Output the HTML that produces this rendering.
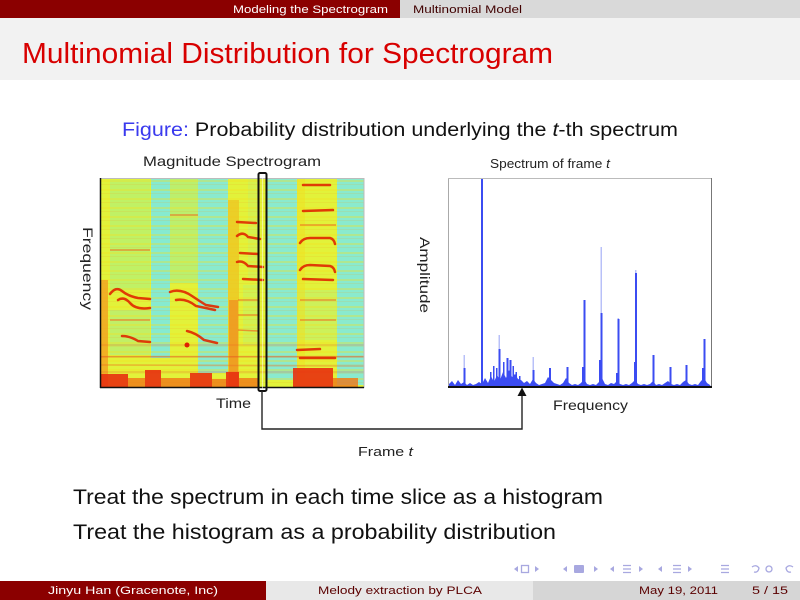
<!DOCTYPE html>
<html><head><meta charset="utf-8"><style>
html,body{margin:0;padding:0;background:#fff;}
svg{display:block;font-family:"Liberation Sans",sans-serif;}
</style></head><body>
<svg width="800" height="600" viewBox="0 0 800 600" xmlns="http://www.w3.org/2000/svg">
<defs>
<clipPath id="spc"><rect x="101" y="178" width="263" height="209"/></clipPath>
<pattern id="stripes" x="0" y="178" width="263" height="9" patternUnits="userSpaceOnUse">
<rect x="0" y="2" width="263" height="2" fill="#f4e020" opacity="0.35"/>
<rect x="0" y="6" width="263" height="1" fill="#f0a020" opacity="0.15"/>
</pattern>
</defs>
<!-- header -->
<rect x="0" y="0" width="400" height="18" fill="#8b0000"/>
<rect x="400" y="0" width="400" height="18" fill="#d9d9d9"/>
<text x="233" y="13" font-size="11" fill="#fff" textLength="155" lengthAdjust="spacingAndGlyphs">Modeling the Spectrogram</text>
<text x="413" y="13" font-size="11" fill="#400000" textLength="109" lengthAdjust="spacingAndGlyphs">Multinomial Model</text>
<!-- title band -->
<rect x="0" y="18" width="800" height="62" fill="#f2f2f2"/>
<text x="22" y="63" font-size="29" fill="#d80000" textLength="531" lengthAdjust="spacingAndGlyphs">Multinomial Distribution for Spectrogram</text>
<!-- caption -->
<text x="122" y="136" font-size="19" fill="#111" textLength="556" lengthAdjust="spacingAndGlyphs"><tspan fill="#3a3aee">Figure:</tspan> Probability distribution underlying the <tspan font-style="italic">t</tspan>-th spectrum</text>
<text x="143" y="166" font-size="14" fill="#222" textLength="178" lengthAdjust="spacingAndGlyphs">Magnitude Spectrogram</text>
<text x="490" y="168" font-size="13" fill="#222" textLength="120" lengthAdjust="spacingAndGlyphs">Spectrum of frame <tspan font-style="italic">t</tspan></text>

<!-- spectrogram -->
<g clip-path="url(#spc)">
<rect x="101" y="178" width="263" height="209" fill="#e2f23a"/>
<rect x="110" y="180" width="40" height="110" fill="#b8f070" opacity="0.8"/>
<rect x="151" y="178" width="19" height="180" fill="#86ead0"/>
<rect x="170" y="178" width="28" height="105" fill="#b4ef78" opacity="0.85"/>
<rect x="198" y="178" width="30" height="195" fill="#8aeace"/>
<rect x="110" y="310" width="40" height="45" fill="#b4ee7a" opacity="0.7"/>
<rect x="243" y="285" width="15" height="60" fill="#c6f060" opacity="0.6"/>
<rect x="267" y="178" width="30" height="202" fill="#8aeace"/>
<rect x="337" y="178" width="27" height="207" fill="#8aeace"/>
<rect x="297" y="290" width="40" height="50" fill="#bff070" opacity="0.6"/>
<rect x="248" y="178" width="10" height="100" fill="#c8f060" opacity="0.5"/>
<rect x="101" y="178" width="263" height="209" fill="url(#stripes)"/>
<rect x="101" y="280" width="7" height="107" fill="#f4a020" opacity="0.8"/>
<rect x="228" y="200" width="11" height="187" fill="#f0c020" opacity="0.7"/>
<rect x="229" y="300" width="9" height="87" fill="#f08020" opacity="0.6"/>
<rect x="297" y="178" width="8" height="200" fill="#f0e020" opacity="0.5"/>
<rect x="101" y="356" width="263" height="1.5" fill="#e86020" opacity="0.6"/>
<g fill="none" stroke="#e02800" stroke-width="2.5" stroke-linecap="round" opacity="0.9">
<path d="M110 294 Q116 286 122 291 T138 298 L150 299"/>
<path d="M118 300 Q124 296 130 303 T150 308"/>
<path d="M170 292 Q180 288 192 296 T206 305 L218 307"/>
<path d="M176 300 Q186 298 196 306 L215 310"/>
<path d="M122 336 Q130 336 138 341 L150 342"/>
<path d="M187 331 Q196 333 204 340 L217 343"/>
<path d="M237 236 Q243 231 248 237 L260 239"/>
<path d="M237 262 Q243 260 248 266 L263 267"/>
<path d="M243 279 L263 280"/>
<path d="M237 222 L256 223"/>
<path d="M240 253 L258 254"/>
<path d="M303 185 L330 185"/>
<path d="M303 211 L333 210"/>
<path d="M300 243 Q303 238 310 238 L330 238 Q334 239 335 244"/>
<path d="M300 270 Q303 265 310 265 L330 266 Q334 267 335 272"/>
<path d="M303 279 L333 280"/>
<path d="M300 358 L335 358"/>
<path d="M297 350 L320 349"/>
</g>
<g fill="none" stroke="#f07020" stroke-width="1.5" opacity="0.7">
<path d="M110 250 L150 250"/><path d="M170 215 L198 215"/><path d="M110 320 L150 320"/>
<path d="M238 300 L258 300"/><path d="M238 315 L258 315"/><path d="M238 330 L258 331"/>
<path d="M300 225 L336 225"/><path d="M300 300 L336 300"/><path d="M300 320 L336 320"/>
<path d="M101 345 L364 345" opacity="0.5"/><path d="M101 365 L364 366" opacity="0.6"/>
<path d="M101 372 L364 372" opacity="0.5"/>
</g>
<circle cx="187" cy="345" r="2.5" fill="#e02000"/>
<g fill="#e83010" opacity="0.9">
<rect x="101" y="374" width="27" height="13"/>
<rect x="145" y="370" width="16" height="17"/>
<rect x="190" y="373" width="22" height="14"/>
<rect x="226" y="372" width="13" height="15"/>
<rect x="293" y="368" width="40" height="19"/>
</g>
<g fill="#f07818" opacity="0.8">
<rect x="128" y="378" width="17" height="9"/>
<rect x="161" y="378" width="29" height="9"/>
<rect x="212" y="379" width="14" height="8"/>
<rect x="333" y="378" width="25" height="9"/>
<rect x="239" y="378" width="20" height="9"/>
</g>
</g>
<rect x="100.5" y="178.5" width="263.5" height="209" fill="none" stroke="#bbb" stroke-width="1"/>
<line x1="100.5" y1="178" x2="100.5" y2="388" stroke="#111" stroke-width="1.5"/>
<line x1="100" y1="387.5" x2="364" y2="387.5" stroke="#111" stroke-width="1.5"/>
<rect x="258.5" y="173" width="8" height="218" rx="1.5" fill="none" stroke="#111" stroke-width="2"/>
<line x1="262.5" y1="175" x2="262.5" y2="389" stroke="#fff" stroke-width="1" opacity="0.5"/>
<path d="M262 391 V429 H522 V393" fill="none" stroke="#222" stroke-width="1.4"/>
<polygon points="517.5,396 522,387.5 526.5,396" fill="#111"/>

<!-- spectrum -->
<rect x="448" y="178" width="264" height="209" fill="#fff"/>
<line x1="448.5" y1="178" x2="448.5" y2="387" stroke="#aaa"/>
<line x1="448" y1="178.5" x2="712" y2="178.5" stroke="#bbb"/>
<line x1="711.5" y1="178" x2="711.5" y2="387" stroke="#777"/>
<g fill="#b8c0f8">
<rect x="463.5" y="355" width="1.5" height="14"/>
<rect x="498.5" y="335" width="1.5" height="15"/>
<rect x="532.5" y="357" width="1.5" height="14"/>
<rect x="600.5" y="247" width="1.5" height="67"/>
<rect x="617.5" y="318" width="1.5" height="4"/>
<rect x="635" y="270" width="1.5" height="5"/>
</g>
<g fill="#3b4cf2">
<rect x="463.5" y="368" width="2" height="19"/>
<rect x="481" y="179" width="2" height="208"/>
<rect x="498.5" y="349" width="2" height="38"/>
<rect x="506.5" y="358" width="2" height="29"/>
<rect x="509.5" y="360" width="2" height="27"/>
<rect x="532.5" y="370" width="2" height="17"/>
<rect x="549" y="368" width="2" height="19"/>
<rect x="566.5" y="367" width="2" height="20"/>
<rect x="583.5" y="300" width="2" height="87"/>
<rect x="600.5" y="313" width="2" height="74"/>
<rect x="617.5" y="319" width="2" height="68"/>
<rect x="635" y="273" width="2" height="114"/>
<rect x="652.5" y="355" width="2" height="32"/>
<rect x="669.5" y="367" width="2" height="20"/>
<rect x="685.5" y="365" width="2" height="22"/>
<rect x="703.5" y="339" width="2" height="48"/>
<rect x="490" y="372" width="1.5" height="15"/>
<rect x="493" y="366" width="1.5" height="21"/>
<rect x="496" y="368" width="1.5" height="19"/>
<rect x="503" y="362" width="1.5" height="25"/>
<rect x="512.5" y="366" width="1.5" height="21"/>
<rect x="515.5" y="372" width="1.5" height="15"/>
<rect x="519" y="376" width="1.5" height="11"/>
<rect x="582" y="367" width="1.5" height="20"/>
<rect x="599" y="360" width="1.5" height="27"/>
<rect x="616" y="373" width="1.5" height="14"/>
<rect x="634" y="362" width="1.5" height="25"/>
<rect x="702" y="368" width="1.5" height="19"/>
</g>
<polygon fill="#3b4cf2" points="449,384 452,381 455,385 458,380 461,384 464,382 467,385 470,383 473,385 476,384 479,382 482,384 485,378 488,383 491,376 494,382 497,375 500,380 503,372 506,378 509,370 512,377 515,374 518,379 521,380 524,383 527,381 530,384 533,379 536,383 539,385 542,384 545,383 548,377 551,380 554,383 557,384 560,385 563,383 566,378 569,383 572,385 575,384 578,385 581,383 584,379 587,384 590,385 593,384 596,385 599,382 602,378 605,384 608,385 611,383 614,384 617,381 620,384 623,385 626,384 629,385 632,383 635,380 638,384 641,385 644,384 647,385 650,384 653,381 656,385 659,384 662,385 665,383 668,381 671,384 674,385 677,384 680,385 683,382 686,380 689,384 692,385 695,384 698,385 701,381 704,378 707,383 710,385 711,387 449,387"/>
<line x1="448" y1="387" x2="712" y2="387" stroke="#111" stroke-width="2"/>

<text x="216" y="408" font-size="14" fill="#222" textLength="35" lengthAdjust="spacingAndGlyphs">Time</text>
<text x="553" y="410" font-size="14" fill="#222" textLength="75" lengthAdjust="spacingAndGlyphs">Frequency</text>
<text x="358" y="456" font-size="13" fill="#222" textLength="55" lengthAdjust="spacingAndGlyphs">Frame <tspan font-style="italic">t</tspan></text>
<text transform="translate(83,227) rotate(90)" font-size="14" fill="#222" textLength="83" lengthAdjust="spacingAndGlyphs">Frequency</text>
<text transform="translate(420,237) rotate(90)" font-size="14" fill="#222" textLength="76" lengthAdjust="spacingAndGlyphs">Amplitude</text>

<text x="73" y="504" font-size="21" fill="#111" textLength="530" lengthAdjust="spacingAndGlyphs">Treat the spectrum in each time slice as a histogram</text>
<text x="73" y="539" font-size="21" fill="#111" textLength="483" lengthAdjust="spacingAndGlyphs">Treat the histogram as a probability distribution</text>

<!-- nav symbols -->
<g fill="#a8a8e0" stroke="none">
<polygon points="518,566 514,569 518,572"/>
<polygon points="535,566 539,569 535,572"/>
<polygon points="567,566 563,569 567,572"/>
<polygon points="594,566 598,569 594,572"/>
<polygon points="614,566 610,569 614,572"/>
<polygon points="639,566 643,569 639,572"/>
<polygon points="662,566 658,569 662,572"/>
<polygon points="688,566 692,569 688,572"/>
<rect x="574" y="565" width="10" height="8" rx="1"/>
</g>
<g fill="none" stroke="#a8a8e0" stroke-width="1.3">
<rect x="521.5" y="565.5" width="7" height="7"/>
<path d="M623 565.5 h8 M623 569 h8 M623 572.5 h8"/>
<path d="M673 565.5 h8 M673 569 h8 M673 572.5 h8"/>
<path d="M721 565.5 h8 M721 569 h8 M721 572.5 h8"/>
<path d="M752 567 q4 -3 7 1 q-1 5 -5 4"/>
<circle cx="769" cy="569" r="3"/>
<path d="M793 567 q-4 -3 -7 1 q1 5 5 4"/>
</g>

<!-- footer -->
<rect x="0" y="581" width="266" height="19" fill="#8b0000"/>
<rect x="266" y="581" width="267" height="19" fill="#e8e8e8"/>
<rect x="533" y="581" width="267" height="19" fill="#d6d6d6"/>
<text x="48" y="594" font-size="11" fill="#fff" textLength="170" lengthAdjust="spacingAndGlyphs">Jinyu Han  (Gracenote, Inc)</text>
<text x="318" y="594" font-size="11" fill="#5a0000" textLength="164" lengthAdjust="spacingAndGlyphs">Melody extraction by PLCA</text>
<text x="639" y="594" font-size="11" fill="#5a0000" textLength="79" lengthAdjust="spacingAndGlyphs">May 19, 2011</text>
<text x="752" y="594" font-size="11" fill="#5a0000" textLength="36" lengthAdjust="spacingAndGlyphs">5 / 15</text>
</svg>
</body></html>
